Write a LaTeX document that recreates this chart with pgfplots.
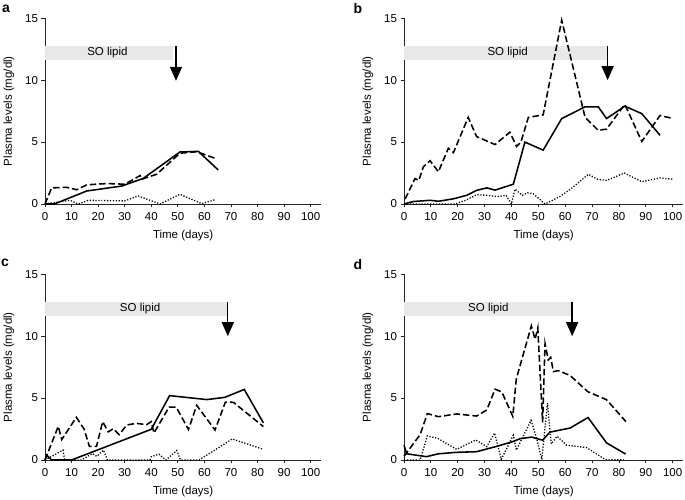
\documentclass[border=0pt]{standalone}
\usepackage{pgfplots}
\pgfplotsset{compat=1.18}
\usepackage{fontspec}
\setmainfont{Liberation Sans}
\usetikzlibrary{arrows.meta}
\newcommand{\fs}{\fontsize{11.5}{13.8}\selectfont}
\pgfplotsset{
 panel/.style={
  scale only axis, height=185.7pt,
  xmin=0, xmax=104, ymin=0, ymax=15,
  axis lines*=left, axis line style={line width=0.8pt, black!85},
  tick align=outside, major tick length=3.5pt, tick style={line width=0.8pt, black!85},
  xtick={0,10,...,100}, ytick={0,5,10,15},
  /pgf/number format/assume math mode=true,
  tick label style={font=\fs},
  xticklabel style={yshift=-1.5pt},
  xlabel={Time (days)}, ylabel={Plasma levels (mg/dl)},
  every axis x label/.style={at={([yshift=-32pt]axis description cs:0.5,0)}, anchor=center, font=\fs},
  every axis y label/.style={at={([xshift=-36pt]axis description cs:0,0.5)}, anchor=center, rotate=90, font=\fs},
  clip=false,
 },
 solidl/.style={line width=1.55pt, black},
 dashl/.style={line width=1.55pt, black, dash pattern=on 6.5pt off 3pt},
 dotl/.style={line width=1.3pt, black, dash pattern=on 1.2pt off 1.7pt},
}
\newcommand{\solipid}[4]{%
  \fill[gray!18] (axis cs:0,11.65) rectangle (axis cs:#1,12.75);
  \node[font=\fs] at (axis cs:#3,12.2) {SO lipid};
  \draw[line width=1.4pt, -{Triangle[width=12pt,length=14pt]}] (axis cs:#2,12.8) -- (axis cs:#2,#4);
}
\begin{document}
\begin{tikzpicture}
\useasboundingbox (0,0) rectangle (685pt,500pt);
% panel a
\begin{axis}[panel, width=276.3pt, at={(45pt,296pt)}, anchor=south west]
\solipid{48.3}{49.3}{23.5}{9.95}
\addplot[solidl] coordinates {(0,0)(3.5,0)(15.7,1.05)(28.9,1.45)(37,2.07)(50.8,4.2)(57.7,4.25)(65.2,2.75)};
\addplot[dashl] coordinates {(0,0)(2.5,1.3)(8.2,1.35)(11.9,1.15)(15.7,1.55)(23.2,1.65)(30.1,1.6)(35.8,2.3)(36.4,2.0)(42,2.4)(50.8,4.1)(57.1,4.22)(64.6,3.65)};
\addplot[dotl] coordinates {(0,0)(9.4,0.3)(12.5,0)(16.3,0.3)(30,0.25)(35.1,0.65)(43.3,0)(50.8,0.78)(59,0.03)(64,0.35)};
\end{axis}
% panel b
\begin{axis}[panel, width=279.4pt, at={(404pt,296pt)}, anchor=south west]
\solipid{75.4}{75.8}{38.6}{10.0}
\addplot[solidl] coordinates {(0,0)(3.5,0.2)(9.7,0.3)(12.8,0.22)(18.4,0.42)(23.3,0.7)(27,1.1)(30.8,1.3)(33.9,1.12)(40.7,1.6)(45,5.0)(51.8,4.35)(58.7,6.9)(67.4,7.85)(72.3,7.85)(75.4,6.9)(82.2,7.9)(88.5,7.3)(95.3,5.55)};
\addplot[dashl] coordinates {(0.4,0.4)(4.1,2.05)(5.5,1.9)(7.2,3.0)(9.7,3.5)(12.8,2.6)(16.5,4.5)(18.4,4.15)(23.9,7.0)(27,5.45)(33.9,4.8)(39.4,5.8)(41.9,4.65)(43.5,5.0)(46.3,7.0)(51.8,7.2)(58.7,14.85)(67.4,7.0)(72.3,5.95)(75.4,6.05)(82.2,8.05)(88.5,5.05)(95.3,7.15)(100.2,6.9)};
\addplot[dotl] coordinates {(0,0)(19,0)(23,0.3)(27,0.75)(31,0.7)(35,0.6)(38,0.7)(40,0)(41.3,1.2)(44,0.7)(46,0.9)(48,0.85)(52.5,0)(58,0.6)(62,1.2)(68.6,2.4)(72,2.0)(75.4,1.9)(82,2.5)(88.5,1.8)(95.3,2.1)(100.2,2.0)};
\end{axis}
% panel c
\begin{axis}[panel, width=276.3pt, at={(45pt,40pt)}, anchor=south west]
\solipid{68.4}{68.8}{35.8}{10.0}
\addplot[solidl] coordinates {(0,0)(0.6,0.4)(2.5,0)(10,0)(40,2.48)(46.9,5.2)(60.9,4.88)(67.7,5.06)(75,5.7)(82.2,3.0)};
\addplot[dashl] coordinates {(0,0)(5,2.72)(6.3,1.65)(11.8,3.45)(14.7,2.5)(16.7,1.1)(19.4,1.1)(21.7,3.1)(23.8,2.27)(25.7,2.53)(27.9,2.05)(30.8,2.83)(34.5,2.96)(38.2,2.85)(40,3.1)(41,2.18)(46.7,4.27)(49.4,4.27)(54,2.46)(57.1,4.42)(64,2.42)(67.9,4.68)(70.9,4.66)(82.2,2.7)};
\addplot[dotl] coordinates {(0,0)(6.8,0.8)(7.4,0)(13.8,0)(17.8,0.52)(19.5,0.3)(22,0.8)(23.5,0)(39.5,0)(40,0.27)(42.9,0.47)(45.5,0)(49.6,0.77)(51,0)(58,0)(70.5,1.7)(82.2,0.86)};
\end{axis}
% panel d
\begin{axis}[panel, width=279.4pt, at={(404pt,40pt)}, anchor=south west]
\solipid{62.3}{62.6}{31.4}{10.0}
\addplot[solidl] coordinates {(0,1.2)(1,0.5)(8.4,0.27)(12.8,0.5)(19.6,0.62)(27,0.67)(34.5,1.1)(40.7,1.5)(43.2,1.72)(47.5,1.85)(51.6,1.6)(54.3,2.25)(61.8,2.58)(68.5,3.43)(75.4,1.38)(82.5,0.48)};
\addplot[dashl] coordinates {(0,0.3)(6,2.05)(8.7,3.75)(12.8,3.5)(19.6,3.72)(27,3.55)(30.8,4.04)(33.9,5.72)(36.4,5.5)(40.5,3.52)(41.8,6.55)(47.4,10.83)(48.8,9.75)(49.8,10.68)(51.6,3.05)(52.5,9.4)(53.7,8.08)(54.6,8.3)(55.6,7.14)(57.4,7.22)(61.8,6.83)(68.4,5.52)(75.4,4.87)(82.6,3.1)};
\addplot[dotl] coordinates {(0,0)(6,0)(8.7,1.95)(12.5,1.75)(19.6,0.86)(26.7,1.62)(30.8,1.08)(33.7,2.18)(36.2,0.05)(40.7,2.0)(41.8,0.8)(47.3,3.2)(49.3,1.8)(51.3,0.05)(53.4,4.58)(54.8,1.3)(57,1.92)(60.5,1.2)(68,1.0)(74.8,0.05)(82.6,0)};
\end{axis}
\node[font=\bfseries\fontsize{14}{16}\selectfont] at (6pt,491pt) {a};
\node[font=\bfseries\fontsize{14}{16}\selectfont] at (358pt,491pt) {b};
\node[font=\bfseries\fontsize{14}{16}\selectfont] at (5pt,237pt) {c};
\node[font=\bfseries\fontsize{14}{16}\selectfont] at (358pt,235pt) {d};
\end{tikzpicture}
\end{document}
